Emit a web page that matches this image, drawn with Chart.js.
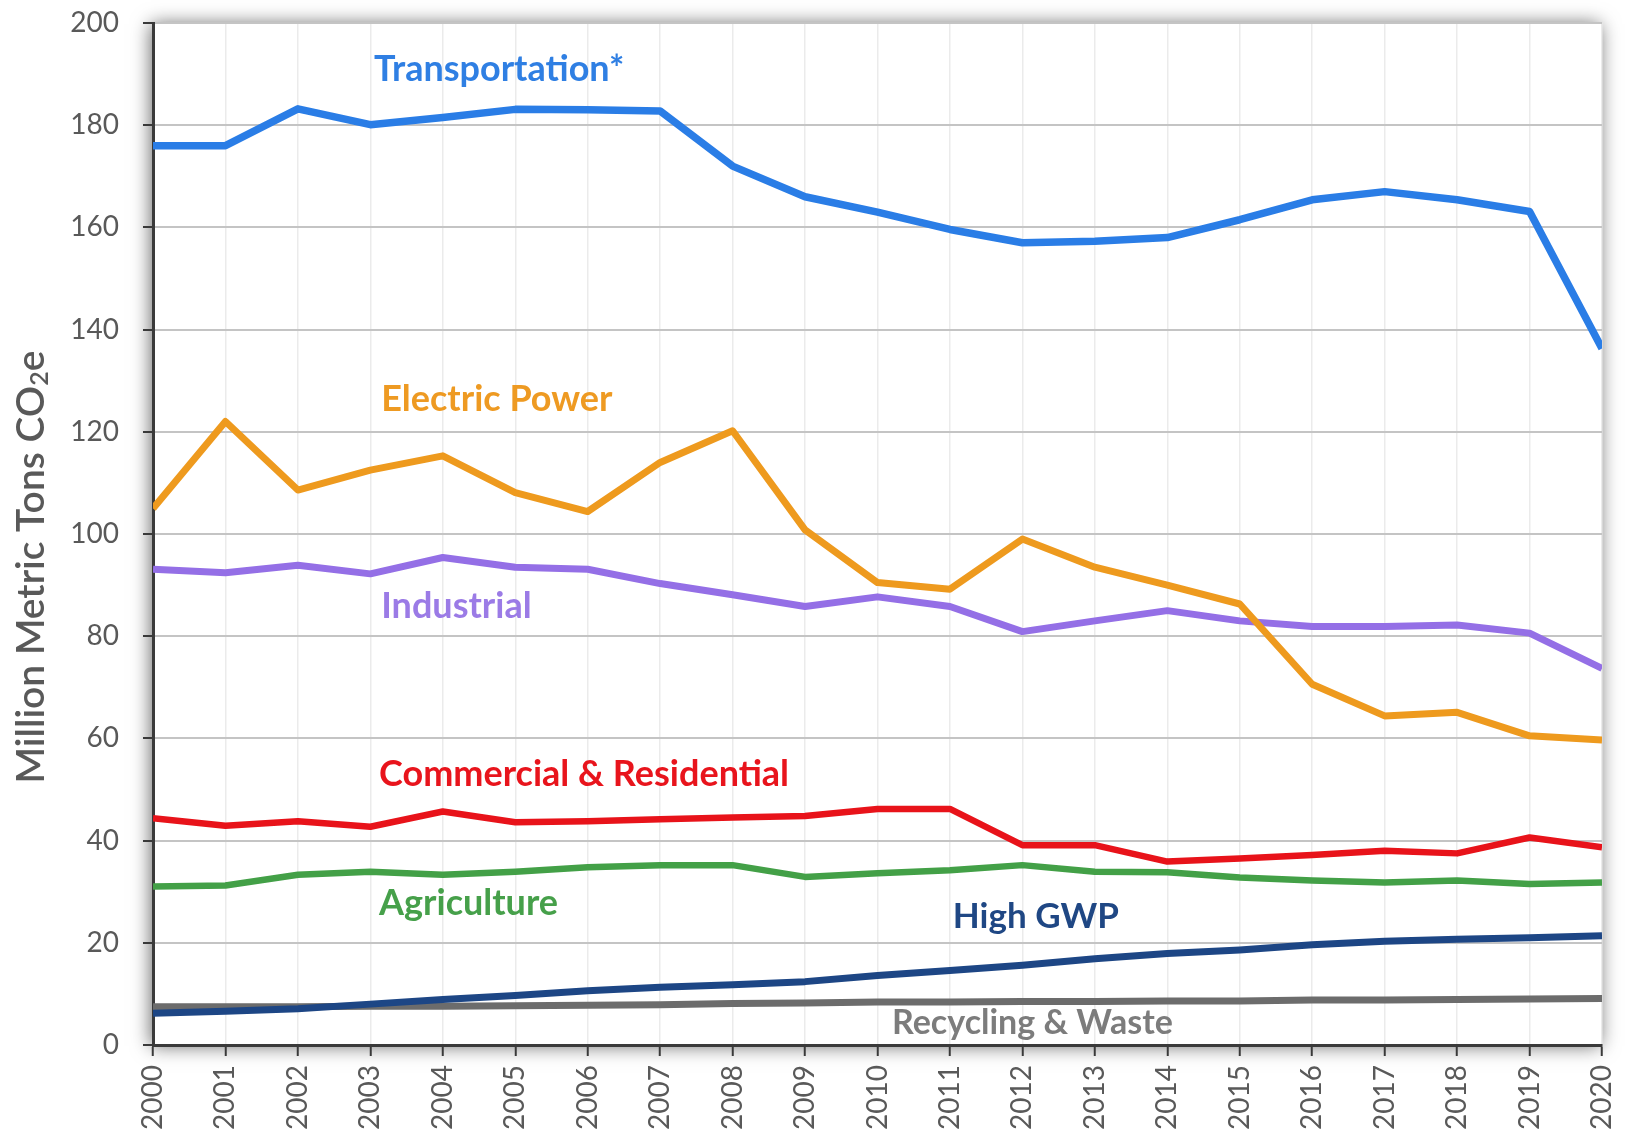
<!DOCTYPE html>
<html>
<head>
<meta charset="utf-8">
<script src="https://cdn.jsdelivr.net/npm/chart.js@4.4.1/dist/chart.umd.min.js"></script>
<style>
  html, body { margin: 0; padding: 0; background: #ffffff; }
  #c { display: block; }
</style>
</head>
<body>
<canvas id="c" width="1625" height="1140"></canvas>
<script>
// ---- Data ----
const years = ["2000","2001","2002","2003","2004","2005","2006","2007","2008","2009","2010",
               "2011","2012","2013","2014","2015","2016","2017","2018","2019","2020"];

const transportation = [176.0,176.0,183.2,180.1,181.5,183.1,183.0,182.8,172.0,166.0,163.0,
                        159.6,157.0,157.3,158.0,161.5,165.4,167.0,165.4,163.1,136.3];
const electricPower  = [105.0,122.0,108.6,112.5,115.3,108.1,104.4,114.0,120.2,100.8,90.5,
                        89.2,99.0,93.5,90.0,86.3,70.6,64.4,65.1,60.5,59.7];
const industrial     = [93.1,92.4,93.9,92.2,95.4,93.5,93.1,90.3,88.1,85.8,87.7,
                        85.8,80.9,83.0,85.0,83.0,81.9,81.9,82.2,80.6,73.7];
const commercialRes  = [44.4,42.9,43.8,42.7,45.7,43.6,43.8,44.2,44.5,44.8,46.2,
                        46.2,39.1,39.1,35.9,36.5,37.2,38.0,37.5,40.6,38.7];
const agriculture    = [31.0,31.2,33.3,33.9,33.3,33.9,34.8,35.2,35.2,32.9,33.6,
                        34.2,35.2,33.9,33.8,32.8,32.2,31.8,32.2,31.5,31.8];
const highGWP        = [6.2,6.6,7.1,8.0,8.9,9.7,10.6,11.3,11.8,12.4,13.6,
                        14.6,15.6,16.9,17.9,18.6,19.6,20.3,20.7,21.0,21.4];
const recyclingWaste = [7.5,7.5,7.5,7.6,7.6,7.7,7.8,7.9,8.1,8.2,8.4,
                        8.4,8.5,8.5,8.6,8.6,8.8,8.8,8.9,9.0,9.1];

const yTicks = [0,20,40,60,80,100,120,140,160,180,200];
const yTitle = ["Million Metric Tons CO", "2", "e"];

// Series labels placed in data coordinates (category index, value)
const seriesLabels = [
  { text: "Transportation*",          x: 3.05,  y: 191.0, color: "#2f7fe3", size: 36 },
  { text: "Electric Power",           x: 3.15,  y: 126.4, color: "#ee9a22", size: 36 },
  { text: "Industrial",               x: 3.15,  y: 85.9,  color: "#9b7be6", size: 36 },
  { text: "Commercial & Residential", x: 3.12,  y: 53.0,  color: "#e8141c", size: 36 },
  { text: "Agriculture",              x: 3.12,  y: 27.8,  color: "#46a04a", size: 36 },
  { text: "High GWP",                 x: 11.04, y: 25.2,  color: "#1f4784", size: 35 },
  { text: "Recycling & Waste",        x: 10.2,  y: 4.3,   color: "#7c7c7c", size: 34 }
];

const LABEL_FAMILY = 'Lato, "Open Sans", sans-serif';
const TICK_FONT = { family: 'Lato, "Open Sans", sans-serif', size: 28 };
const AXIS_DARK = '#3a3a3a';
const TEXT_GRAY = '#595959';

const frameShadow = {
  id: 'frameShadow',
  beforeDraw(chart) {
    const { ctx, chartArea: a } = chart;
    ctx.save();
    ctx.shadowColor = 'rgba(0,0,0,0.6)';
    ctx.shadowBlur = 18;
    ctx.shadowOffsetX = -2;
    ctx.shadowOffsetY = 1;
    ctx.fillStyle = '#ffffff';
    ctx.fillRect(a.left, a.top, a.right - a.left, a.bottom - a.top);
    ctx.restore();
  }
};

const annotations = {
  id: 'annotations',
  afterDatasetsDraw(chart) {
    const { ctx } = chart;
    const xs = chart.scales.x, ys = chart.scales.y;
    ctx.save();
    ctx.textAlign = 'left';
    ctx.textBaseline = 'middle';
    seriesLabels.forEach(l => {
      ctx.font = 'bold ' + l.size + 'px ' + LABEL_FAMILY;
      ctx.fillStyle = l.color;
      ctx.fillText(l.text, xs.getPixelForValue(l.x), ys.getPixelForValue(l.y));
    });
    ctx.restore();
  },
  afterDraw(chart) {
    const { ctx, chartArea: a } = chart;
    // rotated y-axis title with subscript
    ctx.save();
    const cx = 31, cy = (a.top + a.bottom) / 2 + 33;
    ctx.translate(cx, cy);
    ctx.rotate(-Math.PI / 2);
    ctx.fillStyle = TEXT_GRAY;
    ctx.textBaseline = 'middle';
    const mainFont = '600 39px Lato, "Open Sans", sans-serif';
    const subFont = '600 25px Lato, "Open Sans", sans-serif';
    ctx.font = mainFont;
    const w0 = ctx.measureText(yTitle[0]).width;
    const w2 = ctx.measureText(yTitle[2]).width;
    ctx.font = subFont;
    const w1 = ctx.measureText(yTitle[1]).width;
    let x = -(w0 + w1 + w2) / 2;
    ctx.font = mainFont;
    ctx.fillText(yTitle[0], x, 0); x += w0;
    ctx.font = subFont;
    ctx.fillText(yTitle[1], x, 9); x += w1;
    ctx.font = mainFont;
    ctx.fillText(yTitle[2], x, 0);
    ctx.restore();
  }
};

function ds(label, data, color, width) {
  return {
    label, data,
    borderColor: color,
    backgroundColor: color,
    borderWidth: width,
    pointRadius: 0,
    pointHoverRadius: 0,
    tension: 0,
    fill: false,
    borderJoinStyle: 'round',
    borderCapStyle: 'butt',
    clip: 0
  };
}

new Chart(document.getElementById('c'), {
  type: 'line',
  data: {
    labels: years,
    datasets: [
      ds('Transportation*', transportation, '#2a7de6', 7.5),
      ds('Electric Power', electricPower, '#ee9a1e', 7),
      ds('Industrial', industrial, '#946fe6', 7),
      ds('Commercial & Residential', commercialRes, '#e8131a', 6.5),
      ds('Agriculture', agriculture, '#43a047', 6.5),
      ds('High GWP', highGWP, '#1d4685', 7),
      ds('Recycling & Waste', recyclingWaste, '#6c6c6c', 7)
    ]
  },
  options: {
    responsive: false,
    animation: false,
    devicePixelRatio: 1,
    layout: { padding: { top: 23, right: 23, left: 0, bottom: 0 } },
    plugins: {
      legend: { display: false },
      title: { display: false },
      tooltip: { enabled: false }
    },
    scales: {
      x: {
        type: 'category',
        offset: false,
        afterFit(scale) {
          scale.height = 95;
          scale.paddingLeft = 0;
          scale.paddingRight = 0;
        },
        ticks: {
          autoSkip: false,
          maxRotation: 90,
          minRotation: 90,
          padding: 9,
          color: TEXT_GRAY,
          font: TICK_FONT
        },
        grid: {
          color: '#ebebeb',
          lineWidth: 1.5,
          tickLength: 11,
          tickColor: AXIS_DARK,
          tickWidth: 2
        },
        border: { display: true, color: AXIS_DARK, width: 3 }
      },
      y: {
        min: 0,
        max: 200,
        afterFit(scale) {
          scale.width = 153;
          scale.paddingTop = 0;
          scale.paddingBottom = 0;
        },
        afterBuildTicks(scale) { scale.ticks = yTicks.map(v => ({ value: v })); },
        ticks: {
          padding: 24,
          color: TEXT_GRAY,
          font: TICK_FONT
        },
        grid: {
          color: '#c4c4c4',
          lineWidth: 2,
          tickLength: 10,
          tickColor: AXIS_DARK,
          tickWidth: 2
        },
        border: { display: true, color: AXIS_DARK, width: 3 }
      }
    }
  },
  plugins: [frameShadow, annotations]
});
</script>
</body>
</html>
